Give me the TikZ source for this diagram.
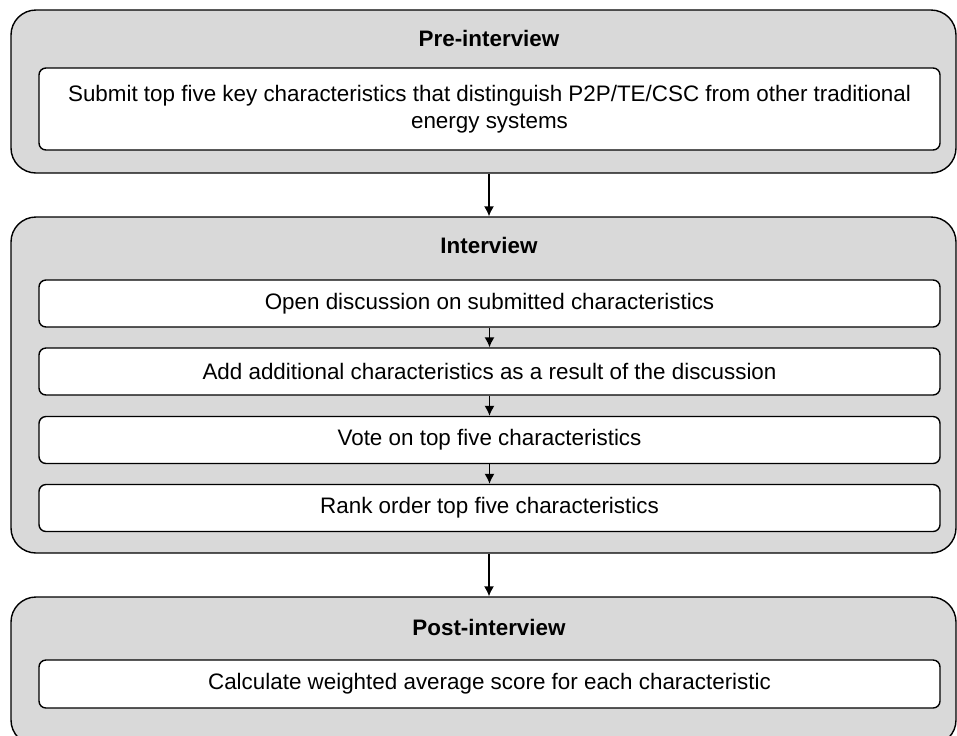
\documentclass[tikz,border=0pt]{standalone}
\usepackage{fontspec}
\setmainfont{Liberation Sans}
\usetikzlibrary{arrows.meta}
\definecolor{stagegray}{RGB}{217,217,217}
\tikzset{
    stage/.style={draw, line width=.7pt, fill=stagegray, rounded corners=12.5pt, minimum width=472.5pt, inner sep=0pt},
    task/.style={draw, line width=.7pt, fill=white, rounded corners=3.5pt, minimum width=450.5pt, align=center, font=\fontsize{11.2}{13.5}\selectfont},
    head/.style={font=\fontsize{11.2}{13}\selectfont\bfseries},
}

\begin{document}
\begin{tikzpicture}[x=.5pt, y=-.5pt, >={Latex[length=5pt,width=5pt]}, line width=.7pt]
        \useasboundingbox (0,0) rectangle (957,735);
        % pre-interview
        \node[stage, minimum height=81.5pt] (pre) at (483.5,91.5) {};
        \node[head] (pretitle) at (489,38) {Pre-interview};
        \node[task, minimum height=41pt] (submit) at (489.5,109) {Submit top five key characteristics that distinguish P2P/TE/CSC from other traditional\\energy systems};
        % interview
        \node[stage, minimum height=168pt] (interview) at (483.5,385) {};
        \node[head] (inttitle) at (489,245) {Interview};
        \node[task, minimum height=23.5pt] (open) at (489.5,303.5) {Open discussion on submitted characteristics};
        \node[task, minimum height=23.5pt] (add) at (489.5,371.5) {Add additional characteristics as a result of the discussion};
        \node[task, minimum height=23.5pt] (vote) at (489.5,440) {Vote on top five characteristics};
        \node[task, minimum height=23.5pt] (rank) at (489.5,508) {Rank order top five characteristics};
        % post-interview
        \node[stage, minimum height=74pt] (post) at (483.5,671) {};
        \node[head] (posttitle) at (489,627) {Post-interview};
        \node[task, minimum height=24pt] (calc) at (489.5,684) {Calculate weighted average score for each characteristic};

        \draw[->] (pre.south -| pretitle.center) -- (interview.north -| pretitle.center);
        \draw[->] (open) -- (add);
        \draw[->] (add) -- (vote);
        \draw[->] (vote) -- (rank);
        \draw[->] (interview.south -| pretitle.center) -- (post.north -| pretitle.center);
    \end{tikzpicture}
\end{document}
